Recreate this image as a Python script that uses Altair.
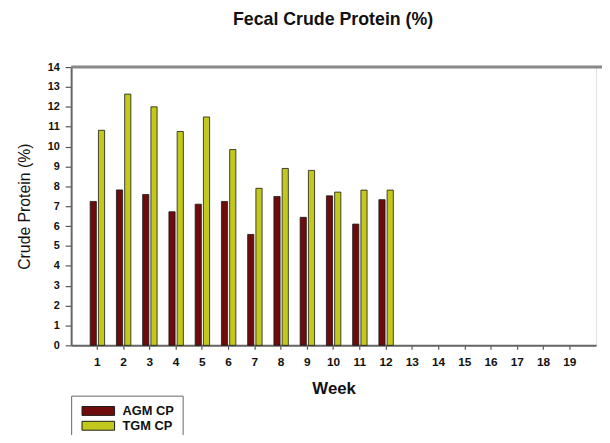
import altair as alt
import pandas as pd

weeks = list(range(1, 13))
agm_cp = [7.24, 7.82, 7.59, 6.72, 7.10, 7.24, 5.58, 7.49, 6.44, 7.52, 6.10, 7.33]
tgm_cp = [10.82, 12.64, 12.00, 10.76, 11.49, 9.85, 7.90, 8.90, 8.80, 7.71, 7.81, 7.81]
series_names = ["AGM CP", "TGM CP"]
series_colors = ["#6e0c0c", "#c3c81c"]
week_axis = list(range(1, 20))

rows = []
for w, a, t in zip(weeks, agm_cp, tgm_cp):
    rows.append({"Week": w, "Series": series_names[0], "CP": a})
    rows.append({"Week": w, "Series": series_names[1], "CP": t})
df = pd.DataFrame(rows)

W, H = 532, 282
font = "Liberation Sans"

bars = alt.Chart(df).mark_bar(stroke="#1a1a1a", strokeWidth=0.8, opacity=1).encode(
    x=alt.X("Week:O",
            scale=alt.Scale(domain=week_axis, paddingInner=0.45, paddingOuter=0.725),
            axis=alt.Axis(title="Week", labelAngle=0, labelFont=font, labelFontWeight="bold",
                          labelFontSize=12, labelColor="#111", labelPadding=7,
                          tickSize=4, tickColor="#555", tickWidth=1.2,
                          domainColor="#666", domainWidth=2,
                          titleFont=font, titleFontSize=17, titleFontWeight="bold",
                          titleColor="#111", titlePadding=14)),
    xOffset=alt.XOffset("Series:N", sort=series_names,
                        scale=alt.Scale(domain=series_names, paddingInner=0.25)),
    y=alt.Y("CP:Q",
            scale=alt.Scale(domain=[0, 14], nice=False),
            axis=alt.Axis(title="Crude Protein (%)", values=list(range(0, 15)),
                          grid=False, labelFont=font, labelFontWeight="bold",
                          labelFontSize=11, labelColor="#111", labelPadding=6,
                          tickSize=6, tickColor="#555", tickWidth=1.2,
                          domainColor="#666", domainWidth=2,
                          titleFont=font, titleFontSize=16, titleFontWeight="normal",
                          titleColor="#111", titlePadding=15)),
    color=alt.Color("Series:N",
                    scale=alt.Scale(domain=series_names, range=series_colors),
                    legend=alt.Legend(title=None, orient="none", legendX=0, legendY=333,
                                      direction="vertical",
                                      symbolType="M-3.3,-0.9H3.3V0.9H-3.3Z",
                                      symbolSize=100, symbolOffset=12,
                                      symbolStrokeColor="#1a1a1a", symbolStrokeWidth=1,
                                      symbolOpacity=1,
                                      labelFont=font, labelFontWeight="bold",
                                      labelFontSize=13, labelColor="#111",
                                      labelOffset=18, rowPadding=1,
                                      padding=9, strokeColor="#666",
                                      fillColor="white")),
)

top_line = alt.Chart(pd.DataFrame({"v": [0]})).mark_rule(
    color="#888", strokeWidth=3
).encode(y=alt.value(0), x=alt.value(0), x2=alt.value(W + 40))

chart = alt.layer(bars, top_line).properties(
    width=W, height=H,
    autosize=alt.AutoSizeParams(type="none"),
    padding={"left": 64, "top": 57, "right": 6, "bottom": 88},
    title=alt.TitleParams("Fecal Crude Protein (%)", anchor="start", frame="group",
                          dx=164, offset=15, baseline="bottom", font=font,
                          fontSize=18, fontWeight="bold", color="#111"),
).configure_view(stroke=None).configure(background="white")

chart.save("out.html", embed_options={"renderer": "svg", "actions": False})
